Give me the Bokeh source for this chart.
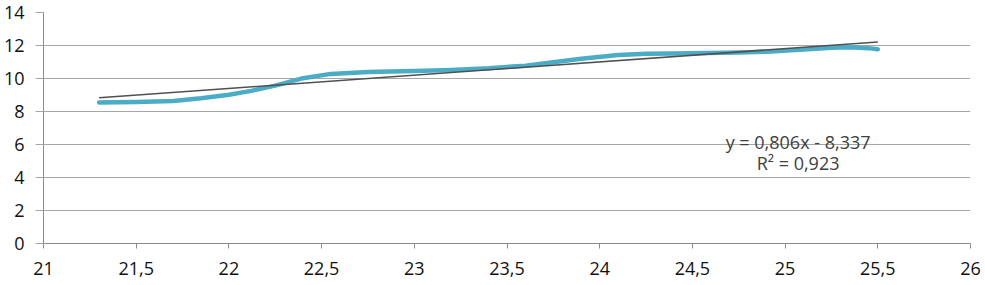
from bokeh.plotting import figure
from bokeh.models import FixedTicker, Label, Range1d
from bokeh.embed import file_html
from bokeh.resources import INLINE

# Data
temp_x = [21.3, 21.5, 21.7, 21.85, 22.0, 22.12, 22.25, 22.4, 22.55, 22.75, 23.0,
          23.2, 23.4, 23.6, 23.75, 23.9, 24.1, 24.25, 24.4, 24.75, 24.9, 25.1,
          25.25, 25.35, 25.45, 25.5]
value_y = [8.55, 8.57, 8.63, 8.8, 9.02, 9.25, 9.57, 10.02, 10.28, 10.4, 10.46,
           10.52, 10.62, 10.78, 10.98, 11.2, 11.42, 11.5, 11.52, 11.57, 11.62, 11.76,
           11.86, 11.9, 11.84, 11.77]

trend_slope = 0.806
trend_intercept = -8.337
trend_text = "y = 0,806x - 8,337"
r2_text = "R\u00b2 = 0,923"

x_ticks = [21.0, 21.5, 22.0, 22.5, 23.0, 23.5, 24.0, 24.5, 25.0, 25.5, 26.0]
x_tick_labels = ["21", "21,5", "22", "22,5", "23", "23,5", "24", "24,5", "25", "25,5", "26"]
y_ticks = [0, 2, 4, 6, 8, 10, 12, 14]

FONT = "Open Sans"

p = figure(width=985, height=285, output_backend="svg", toolbar_location=None,
           x_range=Range1d(21, 26), y_range=Range1d(0, 14),
           min_border_left=42, min_border_right=15, min_border_top=12,
           min_border_bottom=42)
p.outline_line_color = None
p.background_fill_color = "white"
p.border_fill_color = "white"

p.xgrid.visible = False
p.ygrid.grid_line_color = "#a6a6a6"
p.ygrid.grid_line_width = 1
p.ygrid.ticker = FixedTicker(ticks=y_ticks)

xa = p.xaxis[0]
xa.ticker = FixedTicker(ticks=x_ticks)
xa.major_label_overrides = {float(t): lab for t, lab in zip(x_ticks, x_tick_labels)}
xa.axis_line_color = "#8c8c8c"
xa.major_tick_line_color = "#8c8c8c"
xa.major_tick_out = 5
xa.major_tick_in = 0
xa.minor_tick_line_color = None
xa.major_label_standoff = 13
xa.major_label_text_font = FONT
xa.major_label_text_font_size = "18px"
xa.major_label_text_color = "#111111"

ya = p.yaxis[0]
ya.ticker = FixedTicker(ticks=y_ticks)
ya.axis_line_color = "#8c8c8c"
ya.major_tick_line_color = "#a6a6a6"
ya.major_tick_out = 8
ya.major_tick_in = 0
ya.minor_tick_line_color = None
ya.major_label_standoff = 11
ya.major_label_text_font = FONT
ya.major_label_text_font_size = "18px"
ya.major_label_text_color = "#111111"

# data curve
p.line(temp_x, value_y, line_color="#4BACC6", line_width=4.5,
       line_join="round", line_cap="round")

# linear trend line
tx = [min(temp_x), max(temp_x)]
ty = [trend_slope * v + trend_intercept for v in tx]
p.line(tx, ty, line_color="#505050", line_width=1.6)

p.add_layout(Label(x=25.07, y=6.15, text=trend_text, text_align="center",
                   text_baseline="middle", text_font=FONT, text_font_size="18px",
                   text_color="#404040"))
p.add_layout(Label(x=25.07, y=4.9, text=r2_text, text_align="center",
                   text_baseline="middle", text_font=FONT, text_font_size="18px",
                   text_color="#404040"))

open("out.html", "w").write(file_html(p, INLINE))
